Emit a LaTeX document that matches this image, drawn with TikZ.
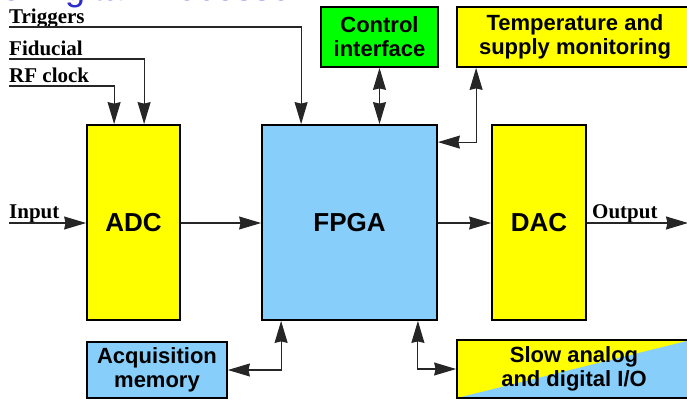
\documentclass[tikz,border=0pt]{standalone}
\usepackage{fontspec}
\setmainfont{Liberation Serif}
\setsansfont{Liberation Sans}
\usetikzlibrary{arrows.meta}
\definecolor{byellow}{RGB}{255,255,0}
\definecolor{bblue}{RGB}{135,206,250}
\definecolor{bgreen}{RGB}{0,255,0}
\definecolor{tblue}{RGB}{45,45,205}
\tikzset{
  box/.style={draw=black, line width=1.8pt, inner sep=0pt, align=center,
    font=\sffamily\bfseries\fontsize{22}{24}\selectfont},
  bigbox/.style={box, minimum height=195pt, font=\sffamily\bfseries\fontsize{26}{28}\selectfont},
  conn/.style={line width=1.1pt, draw=black!85},
  tip/.style={},
  arr/.style={conn, -{Stealth[length=22pt,width=13pt,inset=1.5pt]}},
  darr/.style={conn, {Stealth[length=22pt,width=13pt,inset=1.5pt]}-{Stealth[length=22pt,width=13pt,inset=1.5pt]}},
  lab/.style={anchor=base west, inner sep=0pt, font=\rmfamily\bfseries\fontsize{21}{22}\selectfont},
}
\begin{document}
\begin{tikzpicture}[x=1pt,y=-1pt]
\useasboundingbox (0,0) rectangle (687,399);
% cut-off title
\node[anchor=base west, inner sep=0pt, text=tblue, font=\sffamily\fontsize{36}{38}\selectfont] (title) at (-41,0.5) {The Digital Processor};
% boxes
\node[bigbox, fill=byellow, minimum width=93pt] (adc) at (133.5,222.5) {ADC};
\node[bigbox, fill=bblue, minimum width=175pt] (fpga) at (349.5,222.5) {FPGA};
\node[bigbox, fill=byellow, minimum width=94pt] (dac) at (539,222.5) {DAC};
\node[box, fill=bgreen, minimum width=117pt, minimum height=60pt] (ctrl) at (379.5,37) {Control\\interface};
\node[box, fill=byellow, minimum width=236pt, minimum height=60pt] (temp) at (575,37) {Temperature and\\supply monitoring};
\node[box, fill=bblue, minimum width=140pt, minimum height=56pt] (acq) at (157,370) {Acquisition\\memory};
\node[box, minimum width=234pt, minimum height=58pt,
  path picture={
    \fill[byellow] (path picture bounding box.south west) rectangle (path picture bounding box.north east);
    \fill[bblue] (path picture bounding box.south west) -- (path picture bounding box.north east) -- (path picture bounding box.south east) -- cycle;
  }] (slow) at (574,369) {Slow analog\\and digital I/O};
% labels and free ends
\node[lab] (ltrg) at (9,23) {Triggers};
\node[lab] (lfid) at (9,55) {Fiducial};
\node[lab] (lrf) at (9,82) {RF clock};
\node[lab] (lin) at (9,218) {Input};
\node[lab] (lout) at (592,218) {Output};
\coordinate (trg) at (9,27);
\coordinate (fid) at (9,59);
\coordinate (rf) at (9,86);
\coordinate (in) at (9,223);
\coordinate (out) at (688,223);
% connectors
\draw[arr] (trg) -| ([xshift=40pt]fpga.north west);
\draw[arr] (fid) -| ([xshift=58pt]adc.north west);
\draw[arr] (rf) -| ([xshift=28pt]adc.north west);
\draw[arr] (in) -- (in -| adc.west);
\draw[arr] (adc.east |- in) -- (fpga.west |- in);
\draw[arr] (fpga.east |- in) -- (dac.west |- in);
\draw[arr] (dac.east |- in) -- (out);
\draw[darr] (ctrl.south) -- (ctrl.south |- fpga.north);
\draw[darr] ([xshift=20pt]temp.south west) |- ([yshift=-18pt]fpga.north east);
\draw[darr] ([xshift=20pt]fpga.south west) |- (acq.east);
\draw[darr] ([xshift=-20pt]fpga.south east) |- (slow.west);
\end{tikzpicture}
\end{document}
